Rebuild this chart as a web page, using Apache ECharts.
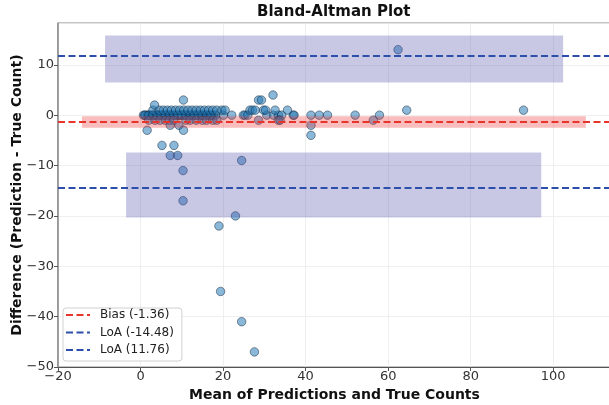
<!DOCTYPE html>
<html>
<head>
<meta charset="utf-8">
<script src="https://cdn.jsdelivr.net/npm/echarts@6/dist/echarts.min.js"></script>
<style>html,body{margin:0;padding:0;background:#fff;}#c{width:609px;height:405px;}</style>
</head>
<body>
<div id="c"></div>
<script>
// ---- data ----
const titleText = 'Bland-Altman Plot';
const xName = 'Mean of Predictions and True Counts';
const yName = 'Difference (Prediction - True Count)';
const xRange = [-20, 114];
const yRange = [-50, 18.3];
const bias = -1.36;
const loaLow = -14.48;
const loaHigh = 11.76;
// bands: [x1, y1, x2, y2]
const bandUpper = [-8.6, 6.5, 102.4, 15.8];
const bandBias = [-14.2, -2.5, 107.9, -0.2];
const bandLower = [-3.5, -20.3, 97.1, -7.4];
// scatter: mean values and differences
const meanVals = [
  // diff 0
  0.7,1.2,1.7,2.2,2.7,3.2,3.7,4.2,4.7,5.2,5.7,6.2,6.7,7.2,7.7,8.2,8.7,9.2,9.7,10.2,10.7,11.2,11.7,12.2,12.7,13.2,13.7,14.2,14.7,15.2,15.7,16.2,16.7,17.2,17.7,18.2,
  1.0,2.0,3.0,4.0,5.0,6.0,7.0,8.0,9.0,10.0,11.0,12.0,13.0,14.0,15.0,16.0,17.0,
  20.1,22.1,24.9,25.3,26.0,30.6,32.2,33.4,34.2,37.0,37.2,41.3,43.3,45.3,52.0,57.9,
  // diff 1
  3.0,4.5,5.5,6.5,7.5,8.5,9.5,10.5,11.5,12.5,13.5,14.5,15.5,16.5,17.5,18.5,19.7,20.5,
  26.5,27.1,27.8,29.8,30.3,32.6,35.6,64.5,92.8,
  // diff -1
  2.0,3.5,4.7,6.0,7.0,8.0,11.0,12.0,13.5,15.0,16.0,17.5,18.5,28.6,33.4,33.8,56.4,
  // diff -2
  7.2,9.3,41.3,
  // others
  3.4,10.4,28.6,29.3,32.1,62.4,
  1.6,10.4,41.3,
  5.2,8.1,7.2,9.0,10.3,24.5,10.3,23.0,19.0,19.4,24.5,27.6
];
const diffVals = [
  0,0,0,0,0,0,0,0,0,0,0,0,0,0,0,0,0,0,0,0,0,0,0,0,0,0,0,0,0,0,0,0,0,0,0,0,
  0,0,0,0,0,0,0,0,0,0,0,0,0,0,0,0,0,
  0,0,0,0,0,0,0,0,0,0,0,0,0,0,0,0,
  1,1,1,1,1,1,1,1,1,1,1,1,1,1,1,1,1,1,
  1,1,1,1,1,1,1,1,1,
  -1,-1,-1,-1,-1,-1,-1,-1,-1,-1,-1,-1,-1,-1,-1,-1,-1,
  -2,-2,-2,
  2,3,3,3,4,13,
  -3,-3,-4,
  -6,-6,-8,-8,-11,-9,-17,-20,-22,-35,-41,-47
];
const legendNames = ['Bias (-1.36)', 'LoA (-14.48)', 'LoA (11.76)'];

// ---- chart ----
const font = 'DejaVu Sans';
const minusFmt = v => String(v).replace('-', '\u2212');
const points = meanVals.map((m, i) => [m, diffVals[i]]);

function rectItem(params, api) {
  const a = api.coord([api.value(0), api.value(3)]);
  const b = api.coord([api.value(2), api.value(1)]);
  return {
    type: 'rect',
    shape: { x: a[0], y: a[1], width: b[0] - a[0], height: b[1] - a[1] },
    style: { fill: api.visual('color') }
  };
}

const chart = echarts.init(document.getElementById('c'), null, { renderer: 'canvas' });
chart.setOption({
  animation: false,
  backgroundColor: '#fff',
  title: {
    text: titleText,
    left: 252, top: 0,
    textStyle: { fontFamily: font, fontWeight: 'bold', fontSize: 15, color: '#111' }
  },
  grid: { left: 58, right: -2, top: 23, bottom: 38, containLabel: false, outerBoundsMode: 'none',
          show: true, borderColor: '#8a8a8a', borderWidth: 1 },
  legend: {
    orient: 'vertical', left: 63, top: 308,
    data: legendNames,
    itemWidth: 24, itemHeight: 14, itemGap: 3.5,
    padding: [0, 8, 4, 2],
    backgroundColor: 'rgba(255,255,255,0.85)',
    borderColor: '#d0d0d0', borderWidth: 1, borderRadius: 3,
    itemStyle: { opacity: 0 },
    textStyle: { fontFamily: font, fontSize: 12, color: '#222', lineHeight: 14, padding: [0, 0, 0, 5] }
  },
  xAxis: {
    type: 'value', min: xRange[0], max: xRange[1], interval: 20,
    name: xName, nameLocation: 'middle', nameGap: 17,
    nameTextStyle: { fontFamily: font, fontWeight: 'bold', fontSize: 14, color: '#111' },
    axisLine: { show: true, onZero: false, lineStyle: { color: '#555', width: 1.2 } },
    axisTick: { show: true, length: 4, lineStyle: { color: '#555' } },
    axisLabel: { fontFamily: font, fontSize: 13, color: '#333', margin: 3, showMaxLabel: false, formatter: minusFmt },
    splitLine: { show: true, lineStyle: { color: '#ebebeb', width: 0.8 } }
  },
  yAxis: {
    type: 'value', min: yRange[0], max: yRange[1], interval: 10,
    name: yName, nameLocation: 'middle', nameGap: 41, nameRotate: 90, nameMoveOverlap: false,
    nameTextStyle: { fontFamily: font, fontWeight: 'bold', fontSize: 14, color: '#111', verticalAlign: 'middle' },
    axisLine: { show: true, onZero: false, lineStyle: { color: '#8a8a8a', width: 1.5 } },
    axisTick: { show: true, length: 4, lineStyle: { color: '#555' } },
    axisLabel: { fontFamily: font, fontSize: 13, color: '#333', margin: 4, showMaxLabel: false, formatter: minusFmt },
    splitLine: { show: true, lineStyle: { color: '#ebebeb', width: 0.8 } }
  },
  series: [
    {
      type: 'scatter', name: 'points', data: points, symbolSize: 8.5, z: 2,
      itemStyle: { color: 'rgba(31,119,180,0.65)', borderColor: 'rgba(15,30,50,0.75)', borderWidth: 0.8 }
    },
    { type: 'custom', name: 'bandU', data: [bandUpper], renderItem: rectItem, z: 3, clip: true,
      itemStyle: { color: 'rgba(72,72,170,0.30)' }, encode: { x: [0, 2], y: [1, 3] } },
    { type: 'custom', name: 'bandL', data: [bandLower], renderItem: rectItem, z: 3, clip: true,
      itemStyle: { color: 'rgba(72,72,170,0.30)' }, encode: { x: [0, 2], y: [1, 3] } },
    { type: 'custom', name: 'bandB', data: [bandBias], renderItem: rectItem, z: 3, clip: true,
      itemStyle: { color: 'rgba(235,50,50,0.32)' }, encode: { x: [0, 2], y: [1, 3] } },
    {
      type: 'line', name: legendNames[0], data: [[xRange[0], bias], [xRange[1], bias]],
      symbol: 'none', z: 5, color: '#e8352b',
      lineStyle: { color: '#e8352b', width: 2, type: [7, 3.5] }
    },
    {
      type: 'line', name: legendNames[1], data: [[xRange[0], loaLow], [xRange[1], loaLow]],
      symbol: 'none', z: 5, color: '#2c4fac',
      lineStyle: { color: '#2c4fac', width: 2, type: [7, 3.5] }
    },
    {
      type: 'line', name: legendNames[2], data: [[xRange[0], loaHigh], [xRange[1], loaHigh]],
      symbol: 'none', z: 5, color: '#2c4fac',
      lineStyle: { color: '#2c4fac', width: 2, type: [7, 3.5] }
    }
  ]
});
</script>
</body>
</html>
